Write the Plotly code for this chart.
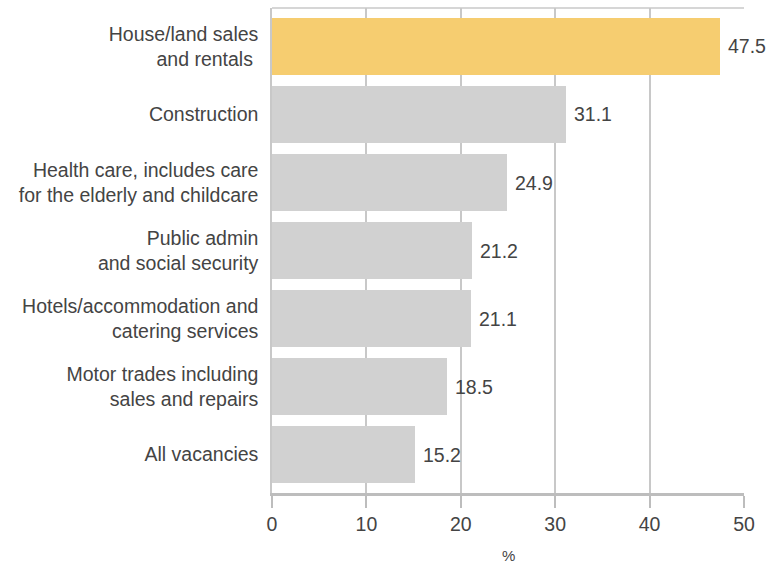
import plotly.graph_objects as go

categories = [
    "House/land sales<br>and rentals\u00a0",
    "Construction",
    "Health care, includes care<br>for the elderly and childcare",
    "Public admin<br>and social security",
    "Hotels/accommodation and<br>catering services",
    "Motor trades including<br>sales and repairs",
    "All vacancies",
]
values = [47.5, 31.1, 24.9, 21.2, 21.1, 18.5, 15.2]
bar_colors = ["#f6cd70", "#d1d1d1", "#d1d1d1", "#d1d1d1", "#d1d1d1", "#d1d1d1", "#d1d1d1"]
x_ticks = [0, 10, 20, 30, 40, 50]

FONT = "Liberation Sans, Arial, sans-serif"
SIZE = 19.5
TEXT = "#444444"
GRID = "#c8c8c8"

fig = go.Figure(
    go.Bar(
        x=values,
        y=categories,
        orientation="h",
        marker=dict(color=bar_colors, line=dict(width=0)),
        width=0.838,
        hoverinfo="skip",
    )
)

# value labels just beyond the end of each bar
for cat, val in zip(categories, values):
    fig.add_annotation(
        x=val, y=cat, text=f"{val:.1f}", showarrow=False,
        xanchor="left", xshift=6, font=dict(family=FONT, size=SIZE, color=TEXT),
    )

# thin frame line along the top of the plot area
fig.add_shape(type="line", xref="paper", yref="paper", x0=0, x1=1, y0=1, y1=1,
              line=dict(color=GRID, width=1.5))

# axis unit under the tick labels
fig.add_annotation(x=0.5, y=-0.128, xref="paper", yref="paper", yanchor="middle",
                   text="%", showarrow=False, font=dict(family=FONT, size=15, color=TEXT))

fig.update_layout(
    width=778, height=567,
    margin=dict(l=272, r=34, t=8, b=74, autoexpand=False),
    paper_bgcolor="white", plot_bgcolor="white",
    font=dict(family=FONT, size=SIZE, color=TEXT),
    showlegend=False,
    bargap=0,
    xaxis=dict(
        range=[0, 50], tickvals=x_ticks, ticktext=[str(t) for t in x_ticks],
        showgrid=True, gridcolor=GRID, gridwidth=1.5,
        showline=True, linecolor="#bdbdbd", linewidth=2.5,
        ticks="outside", ticklen=12, tickcolor="#bdbdbd", tickwidth=1.5,
        zeroline=False, automargin=False,
        tickfont=dict(size=SIZE),
    ),
    yaxis=dict(
        autorange=False, range=[6.566, -0.566],
        showgrid=False, zeroline=False,
        showline=True, linecolor=GRID, linewidth=1.5,
        ticks="", ticklabelstandoff=8, automargin=False,
        tickfont=dict(size=SIZE),
    ),
)

fig.write_html("out.html")
